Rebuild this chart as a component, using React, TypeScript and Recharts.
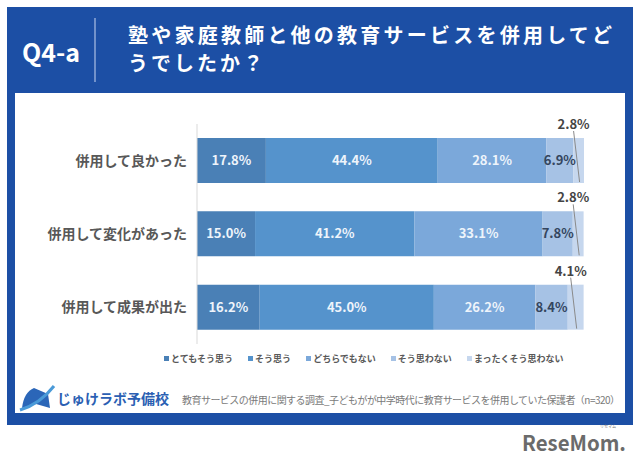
import { Bar, BarChart, LabelList, Legend, XAxis, YAxis } from "recharts";

const categories = ["併用して良かった", "併用して変化があった", "併用して成果が出た"];
const seriesNames = ["とてもそう思う", "そう思う", "どちらでもない", "そう思わない", "まったくそう思わない"];
const veryMuch = [17.8, 15.0, 16.2];
const agree = [44.4, 41.2, 45.0];
const neutral = [28.1, 33.1, 26.2];
const disagree = [6.9, 7.8, 8.4];
const notAtAll = [2.8, 2.8, 4.1];

const COLORS = ["#4a80b6", "#5593cc", "#7ba8da", "#a6c2e5", "#c6d7ee"];
const FONT = '"Noto Sans CJK JP", "Noto Sans", sans-serif';
const HEADER_BLUE = "#1c4fa5";

const rows = categories.map((name, i) => ({
  name,
  s0: veryMuch[i],
  s1: agree[i],
  s2: neutral[i],
  s3: disagree[i],
  s4: notAtAll[i],
}));

const pct = (v: unknown) => `${Number(v).toFixed(1)}%`;

// small outside label with a leader line for the thin last segment
function OutsideLabel(props: any) {
  const { x, y, width, height, value } = props;
  const cx = x + width / 2;
  const lx = cx - 5;
  const ly = y - 14;
  return (
    <g>
      <line x1={lx} y1={ly + 7} x2={cx + 1} y2={y + height - 1} stroke="#8a8a8a" strokeWidth={1} />
      <text x={lx} y={ly} dy={5} textAnchor="middle" fontSize={13} fontWeight={700} fill="#444" fontFamily={FONT}>
        {pct(value)}
      </text>
    </g>
  );
}

function CategoryTick(props: any) {
  const { x, y, payload } = props;
  return (
    <text x={x} y={y} dy={5} textAnchor="end" fontSize={14} fontWeight={600} fill="#585858" fontFamily={FONT}>
      {payload.value}
    </text>
  );
}

function LegendContent() {
  return (
    <div style={{ display: "flex", gap: 15, fontFamily: FONT, fontSize: 9, fontWeight: 700, color: "#595959" }}>
      {seriesNames.map((n, i) => (
        <div key={n} style={{ display: "flex", alignItems: "center", gap: 2 }}>
          <span style={{ width: 5, height: 5, background: COLORS[i], display: "inline-block" }} />
          <span>{n}</span>
        </div>
      ))}
    </div>
  );
}

function Frame() {
  return (
    <svg width={640} height={464} style={{ position: "absolute", left: 0, top: 0 }}>
      <rect x={0} y={0} width={640} height={464} fill="#fff" />
      <rect x={7} y={7} width={626} height={418} fill={HEADER_BLUE} />
      <rect x={15} y={93} width={610} height={320} fill="#fff" />
      <text x={22} y={62} fontSize={25} fontWeight={700} fill="#fff" fontFamily={FONT}>
        Q4-a
      </text>
      <line x1={95} y1={18} x2={95} y2={82} stroke="#8fa9d8" strokeWidth={1.5} />
      <text x={128} y={43} fontSize={20} fontWeight={700} fill="#fff" fontFamily={FONT} textLength={484}>
        塾や家庭教師と他の教育サービスを併用してど
      </text>
      <text x={128} y={71} fontSize={20} fontWeight={700} fill="#fff" fontFamily={FONT} letterSpacing={3}>
        うでしたか？
      </text>
      {/* logo */}
      <path d="M22 408 Q24 392 34 388 L48 394 L50 408 L36 404 Z" fill="#2b66b8" />
      <path d="M20 410 Q40 404 54 386" stroke="#4a9ad8" strokeWidth={3} fill="none" />
      <text x={57} y={404} fontSize={14} fontWeight={700} fill="#2b5fb3" fontFamily={FONT}>
        じゅけラボ予備校
      </text>
      <text x={182} y={404} fontSize={10} fill="#7a7a7a" fontFamily={FONT} textLength={438}>
        教育サービスの併用に関する調査_子どもがが中学時代に教育サービスを併用していた保護者（n=320）
      </text>
      <text x={600} y={427.5} fontSize={4} fill="#777" fontFamily={FONT}>
        リセマム
      </text>
      <text
        x={522}
        y={451}
        fontSize={21}
        fontWeight={700}
        fill="#6b6b6b"
        fontFamily={FONT}
        textLength={104}
        lengthAdjust="spacingAndGlyphs"
      >
        ReseMom.
      </text>
    </svg>
  );
}

export default function App() {
  return (
    <div style={{ position: "absolute", left: 0, top: 0, width: 640, height: 464 }}>
      <Frame />
      <div style={{ position: "absolute", left: 0, top: 0 }}>
        <BarChart
          width={640}
          height={464}
          data={rows}
          layout="vertical"
          barSize={45}
          margin={{ top: 124, right: 56, bottom: 120, left: 17 }}
        >
          <XAxis type="number" domain={[0, 100]} hide />
          <YAxis
            type="category"
            dataKey="name"
            width={180}
            tickLine={false}
            tickSize={0}
            tickMargin={10}
            axisLine={{ stroke: "#d9d9d9" }}
            tick={<CategoryTick />}
          />
          <Legend
            layout="horizontal"
            verticalAlign="middle"
            align="center"
            content={<LegendContent />}
            wrapperStyle={{ top: 352, left: 164, width: 440 }}
          />
          {["s0", "s1", "s2", "s3", "s4"].map((key, i) => (
            <Bar
              key={key}
              dataKey={key}
              name={seriesNames[i]}
              stackId="a"
              fill={COLORS[i]}
              isAnimationActive={false}
            >
              {i < 4 ? (
                <LabelList
                  dataKey={key}
                  position="center"
                  formatter={pct}
                  fill={i < 3 ? "#eef4fb" : "#34455e"}
                  fontSize={13}
                  fontWeight={700}
                  fontFamily={FONT}
                />
              ) : (
                <LabelList dataKey={key} content={<OutsideLabel />} />
              )}
            </Bar>
          ))}
        </BarChart>
      </div>
    </div>
  );
}
